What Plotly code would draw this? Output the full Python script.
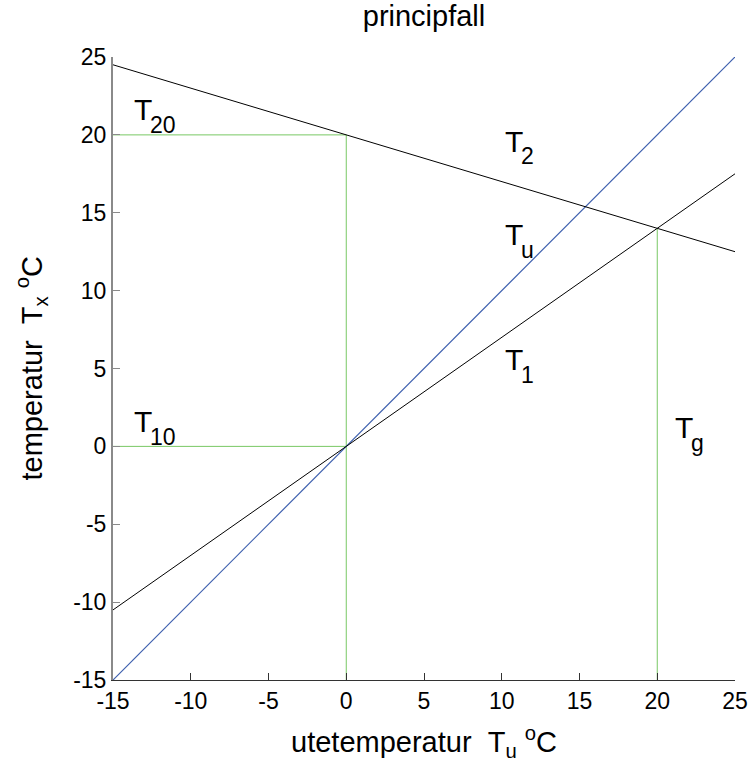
import plotly.graph_objects as go

# Data
x_ends = [-15, 25]
t_u = [-15, 25]
t_1 = [-10.5, 17.5]
t_2 = [24.5, 12.5]

guide_h20_x = [-15, 0]
guide_h20_y = [20, 20]
guide_v0_x = [0, 0]
guide_v0_y = [-15, 20]
guide_h0_x = [-15, 0]
guide_h0_y = [0, 0]
guide_vg_x = [20, 20]
guide_vg_y = [-15, 14]

tick_vals = [-15, -10, -5, 0, 5, 10, 15, 20, 25]
tick_text = ["-15", "-10", "-5", "0", "5", "10", "15", "20", "25"]

label_main = ["T", "T", "T", "T", "T", "T"]
label_sub = ["20", "2", "u", "1", "10", "g"]
label_x = [-13.8, 10.1, 10.1, 10.1, -13.8, 21.0]
label_y = [21.6, 19.6, 13.6, 5.55, 1.57, 1.2]

FONT = "Liberation Sans, Arial, sans-serif"
BLACK = "#000000"
BLUE = "#3d5fae"
GREEN = "#78c864"

fig = go.Figure()

for gx, gy in [(guide_h20_x, guide_h20_y), (guide_v0_x, guide_v0_y),
               (guide_h0_x, guide_h0_y), (guide_vg_x, guide_vg_y)]:
    fig.add_trace(go.Scatter(x=gx, y=gy, mode="lines",
                             line=dict(color=GREEN, width=1), hoverinfo="skip"))

fig.add_trace(go.Scatter(x=x_ends, y=t_u, mode="lines", line=dict(color=BLUE, width=1.2)))
fig.add_trace(go.Scatter(x=x_ends, y=t_1, mode="lines", line=dict(color=BLACK, width=1)))
fig.add_trace(go.Scatter(x=x_ends, y=t_2, mode="lines", line=dict(color=BLACK, width=1)))

annotations = []
for m, s, lx, ly in zip(label_main, label_sub, label_x, label_y):
    annotations.append(dict(x=lx, y=ly, xref="x", yref="y", text=m, showarrow=False,
                            xanchor="left", yanchor="middle",
                            font=dict(family=FONT, size=30, color=BLACK)))
    annotations.append(dict(x=lx, y=ly, xref="x", yref="y", text=s, showarrow=False,
                            xanchor="left", yanchor="middle", xshift=16, yshift=-15,
                            font=dict(family=FONT, size=23, color=BLACK)))

annotations.append(dict(x=0, y=0.5, xref="paper", yref="paper",
                        xshift=-82, textangle=-90, showarrow=False,
                        xanchor="center", yanchor="middle",
                        text="temperatur&nbsp;&nbsp;T<sub>x</sub> <sup>o</sup>C",
                        font=dict(family=FONT, size=29, color=BLACK)))

fig.update_layout(
    width=751, height=763,
    margin=dict(l=113, r=16, t=57, b=83),
    paper_bgcolor="white", plot_bgcolor="white",
    showlegend=False,
    font=dict(family=FONT, color=BLACK),
    title=dict(text="principfall", x=0.5, xref="paper", xanchor="center",
               y=1, yref="container", yanchor="top", pad=dict(t=6),
               font=dict(family=FONT, size=29, color=BLACK)),
    annotations=annotations,
)

fig.update_xaxes(range=[-15, 25], tickvals=tick_vals, ticktext=tick_text,
                 ticks="inside", ticklen=7, tickcolor="#333333",
                 showline=True, linecolor="#333333", linewidth=1,
                 showgrid=False, zeroline=False, automargin=False,
                 tickfont=dict(family=FONT, size=23, color=BLACK),
                 title=dict(text="utetemperatur&nbsp;&nbsp;T<sub>u</sub> <sup>o</sup>C",
                            font=dict(family=FONT, size=29, color=BLACK), standoff=19))
fig.update_yaxes(range=[-15, 25], tickvals=tick_vals, ticktext=tick_text,
                 ticks="inside", ticklen=7, tickcolor="#8a8a8a",
                 showline=True, linecolor="#8a8a8a", linewidth=2,
                 showgrid=False, zeroline=False, automargin=False,
                 tickfont=dict(family=FONT, size=23, color=BLACK))

fig.write_html("out.html")
